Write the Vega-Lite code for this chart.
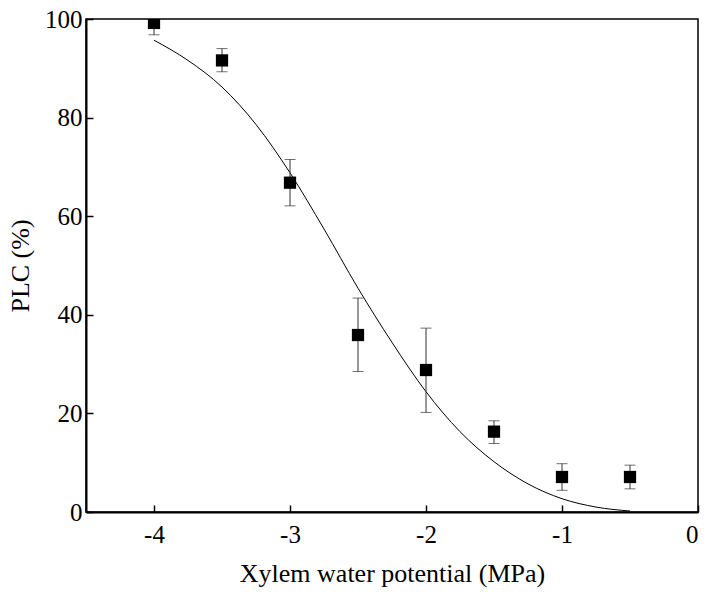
{
  "$schema": "https://vega.github.io/schema/vega-lite/v6.json",
  "width": 612,
  "height": 493,
  "autosize": "none",
  "padding": {"left": 86, "top": 19, "right": 8, "bottom": 80},
  "background": "white",
  "config": {
    "view": {"stroke": "black", "strokeWidth": 1.5},
    "font": "Liberation Serif",
    "axis": {
      "grid": false,
      "domainColor": "black",
      "domainWidth": 2,
      "tickColor": "black",
      "tickWidth": 1.5,
      "labelFont": "Liberation Serif",
      "titleFont": "Liberation Serif",
      "labelColor": "black",
      "titleColor": "black",
      "labelFontSize": 25,
      "titleFontSize": 26,
      "titleFontWeight": "normal"
    }
  },
  "datasets": {
    "points": [
      {"x": -4.0, "plc": 99.2, "lo": 96.8, "hi": 101.6},
      {"x": -3.5, "plc": 91.6, "lo": 89.3, "hi": 94.0},
      {"x": -3.0, "plc": 66.8, "lo": 62.1, "hi": 71.5},
      {"x": -2.5, "plc": 35.9, "lo": 28.5, "hi": 43.4},
      {"x": -2.0, "plc": 28.8, "lo": 20.2, "hi": 37.3},
      {"x": -1.5, "plc": 16.3, "lo": 13.9, "hi": 18.5},
      {"x": -1.0, "plc": 7.1, "lo": 4.4, "hi": 9.8},
      {"x": -0.5, "plc": 7.1, "lo": 4.7, "hi": 9.5}
    ],
    "curve": [
      {"x": -4.0, "plc": 95.7},
      {"x": -3.75, "plc": 91.6},
      {"x": -3.5, "plc": 86.2},
      {"x": -3.25, "plc": 78.6},
      {"x": -3.0, "plc": 68.8},
      {"x": -2.75, "plc": 57.4},
      {"x": -2.5, "plc": 45.4},
      {"x": -2.25, "plc": 34.4},
      {"x": -2.0, "plc": 24.4},
      {"x": -1.75, "plc": 16.3},
      {"x": -1.5, "plc": 10.2},
      {"x": -1.25, "plc": 5.7},
      {"x": -1.0, "plc": 2.7},
      {"x": -0.75, "plc": 1.0},
      {"x": -0.5, "plc": 0.2}
    ]
  },
  "layer": [
    {
      "data": {"name": "curve"},
      "mark": {"type": "line", "color": "black", "strokeWidth": 1, "interpolate": "monotone", "clip": true},
      "encoding": {
        "x": {
          "field": "x", "type": "quantitative",
          "scale": {"domain": [-4.5, 0], "nice": false, "zero": false},
          "axis": {"values": [-4, -3, -2, -1, 0], "tickSize": -7, "labelPadding": 17, "labelExpr": "'' + datum.value", "title": "Xylem water potential (MPa)", "titlePadding": 13}
        },
        "y": {
          "field": "plc", "type": "quantitative",
          "scale": {"domain": [0, 100], "nice": false},
          "axis": {"values": [0, 20, 40, 60, 80, 100], "tickSize": -7, "labelPadding": 11, "title": "PLC (%)", "titlePadding": 11}
        }
      }
    },
    {
      "data": {"name": "points"},
      "mark": {"type": "rule", "color": "#333", "strokeWidth": 1, "clip": true},
      "encoding": {
        "x": {"field": "x", "type": "quantitative"},
        "y": {"field": "lo", "type": "quantitative"},
        "y2": {"field": "hi"}
      }
    },
    {
      "data": {"name": "points"},
      "mark": {"type": "tick", "orient": "horizontal", "color": "#333", "thickness": 1, "size": 11, "clip": true},
      "encoding": {
        "x": {"field": "x", "type": "quantitative"},
        "y": {"field": "lo", "type": "quantitative"}
      }
    },
    {
      "data": {"name": "points"},
      "mark": {"type": "tick", "orient": "horizontal", "color": "#333", "thickness": 1, "size": 11, "clip": true},
      "encoding": {
        "x": {"field": "x", "type": "quantitative"},
        "y": {"field": "hi", "type": "quantitative"}
      }
    },
    {
      "data": {"name": "points"},
      "mark": {"type": "square", "color": "black", "opacity": 1, "size": 150, "clip": true},
      "encoding": {
        "x": {"field": "x", "type": "quantitative"},
        "y": {"field": "plc", "type": "quantitative"}
      }
    }
  ]
}
